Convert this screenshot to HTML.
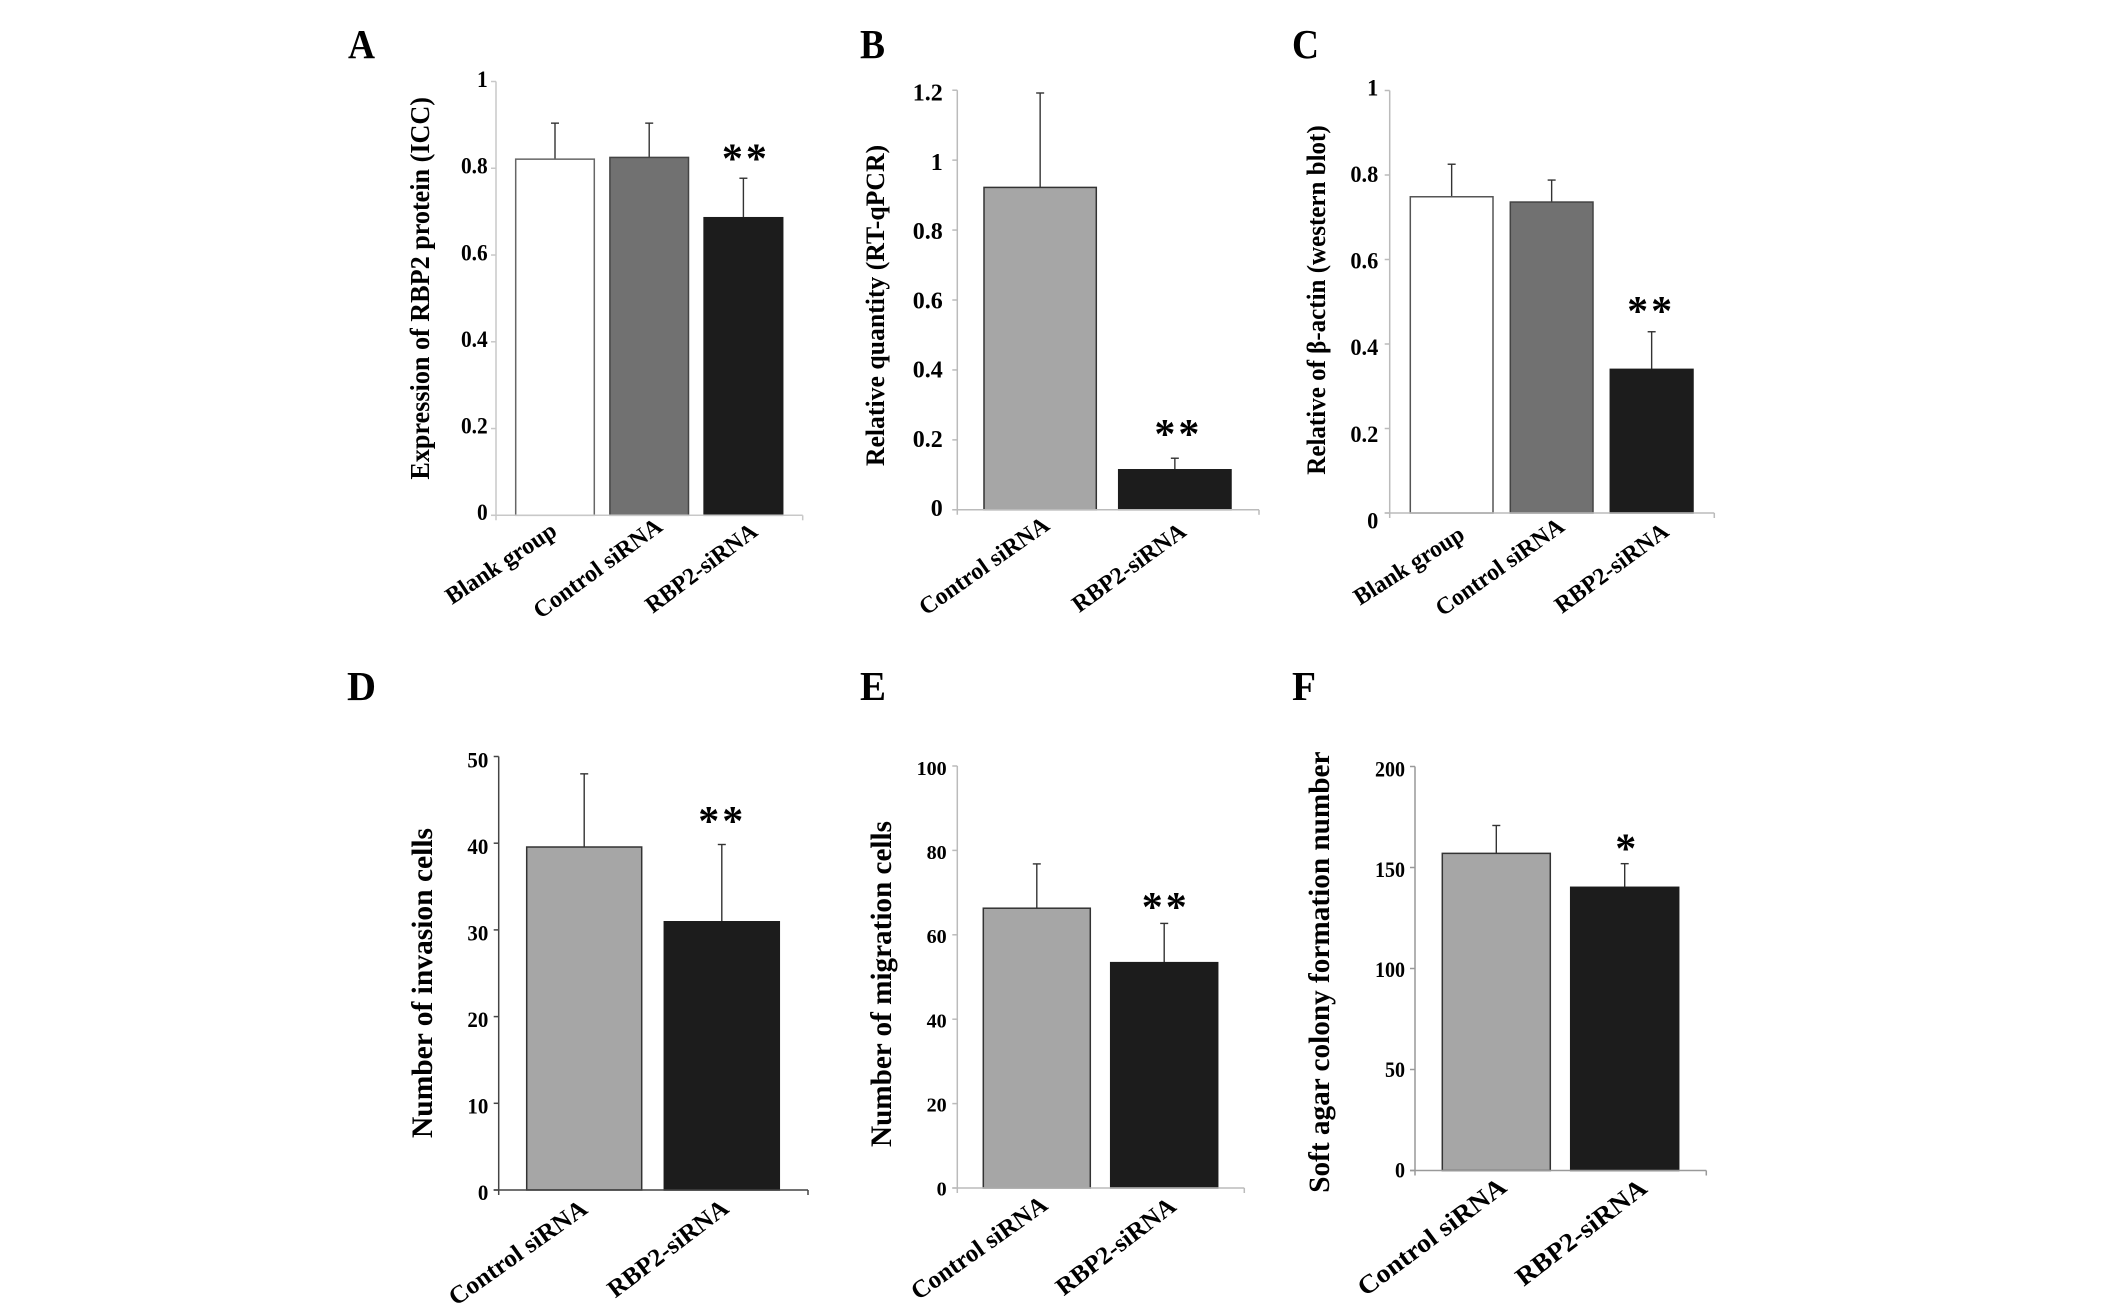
<!DOCTYPE html>
<html lang="en">
<head>
<meta charset="utf-8">
<title>RBP2 siRNA bar chart panels</title>
<style>
html,body{margin:0;padding:0;background:#fff;width:2126px;height:1312px;overflow:hidden}
svg{display:block}
text{font-family:"Liberation Serif","DejaVu Serif",serif;font-weight:bold;fill:#000}
</style>
</head>
<body>
<svg id="figure" xmlns="http://www.w3.org/2000/svg" width="2126" height="1312" viewBox="0 0 2126 1312"></svg>
<script>
// ---- Panel data ----
const aCategories = ["Blank group", "Control siRNA", "RBP2-siRNA"];
const aValues = [0.821, 0.825, 0.686];
const aErrors = [0.083, 0.079, 0.091];
const aTickLabels = ["0", "0.2", "0.4", "0.6", "0.8", "1"];
const aStars = ["", "", "**"];

const bCategories = ["Control siRNA", "RBP2-siRNA"];
const bValues = [0.922, 0.1145];
const bErrors = [0.27, 0.033];
const bTickLabels = ["0", "0.2", "0.4", "0.6", "0.8", "1", "1.2"];
const bStars = ["", "**"];

const cCategories = ["Blank group", "Control siRNA", "RBP2-siRNA"];
const cValues = [0.7485, 0.736, 0.34];
const cErrors = [0.077, 0.052, 0.089];
const cTickLabels = ["0", "0.2", "0.4", "0.6", "0.8", "1"];
const cStars = ["", "", "**"];

const dCategories = ["Control siRNA", "RBP2-siRNA"];
const dValues = [39.56, 30.94];
const dErrors = [8.44, 8.91];
const dTickLabels = ["0", "10", "20", "30", "40", "50"];
const dStars = ["", "**"];

const eCategories = ["Control siRNA", "RBP2-siRNA"];
const eValues = [66.3, 53.4];
const eErrors = [10.5, 9.3];
const eTickLabels = ["0", "20", "40", "60", "80", "100"];
const eStars = ["", "**"];

const fCategories = ["Control siRNA", "RBP2-siRNA"];
const fValues = [157, 140.2];
const fErrors = [13.8, 11.7];
const fTickLabels = ["0", "50", "100", "150", "200"];
const fStars = ["", "*"];

// ---- Panel layout (frame geometry and styling, separate from data) ----
const WHITE = "#ffffff", MID = "#717171", LIGHT = "#a6a6a6", DARK = "#1c1c1c";
const panels = [
  {id:"a", letter:"A", lx:348, ly:58, lw:27,
   title:"Expression of RBP2 protein (ICC)", tx:429, tTop:97, tBot:479.6, tFs:27,
   categories:aCategories, values:aValues, errors:aErrors, ticks:aTickLabels, stars:aStars,
   left:496, right:802.7, top:81.5, bottom:515.3, axis:"#c8c8c8",
   barLeft:515.7, barWidth:78.6, barStep:94.2, fills:[WHITE,MID,DARK], barStroke:["#666","#444","#1c1c1c"],
   tickRight:487.7, tickFs:23, tickStretch:0.93, labTop:-2, labBot:-2.8,
   xFs:24, xLabels:[[452,605,558.3,534.4],[540.5,619.4,664,529.5],[652.7,614,759,534.4]],
   starDx:1, starLift:24.5},
  {id:"b", letter:"B", lx:860, ly:58, lw:25,
   title:"Relative quantity (RT-qPCR)", tx:884, tTop:144.9, tBot:466.1, tFs:26,
   categories:bCategories, values:bValues, errors:bErrors, ticks:bTickLabels, stars:bStars,
   left:957.3, right:1259, top:90.2, bottom:509.8, axis:"#bbbbbb",
   barLeft:984, barWidth:112.3, barStep:134.7, fills:[LIGHT,DARK], barStroke:["#333","#1c1c1c"],
   tickRight:942.7, tickFs:24, tickStretch:1.0, labTop:2.5, labBot:-1.6,
   xFs:24, xLabels:[[926,616,1051,528.3],[1079.3,613.2,1187.7,534.4]],
   starDx:2, starLift:29.4},
  {id:"c", letter:"C", lx:1292, ly:58, lw:27,
   title:"Relative of \u03b2-actin (western blot)", tx:1325, tTop:125.3, tBot:474.7, tFs:26,
   categories:cCategories, values:cValues, errors:cErrors, ticks:cTickLabels, stars:cStars,
   left:1389.7, right:1714.3, top:90.5, bottom:513, axis:"#bbbbbb",
   barLeft:1410.3, barWidth:82.7, barStep:100, fills:[WHITE,MID,DARK], barStroke:["#555","#444","#1c1c1c"],
   tickRight:1378.3, tickFs:23.3, tickStretch:0.96, labTop:-2.8, labBot:7.7,
   xFs:24, xLabels:[[1360,605.9,1466,538.4],[1442.5,616.9,1566,529.5],[1562,614.1,1670.3,534.4]],
   starDx:-2, starLift:25.7},
  {id:"d", letter:"D", lx:347, ly:700, lw:29,
   title:"Number of invasion cells", tx:432, tTop:828, tBot:1138, tFs:30,
   categories:dCategories, values:dValues, errors:dErrors, ticks:dTickLabels, stars:dStars,
   left:498.7, right:808, top:756.5, bottom:1190, axis:"#444444",
   barLeft:526.7, barWidth:115, barStep:137.6, fills:[LIGHT,DARK], barStroke:["#333","#1c1c1c"],
   tickRight:488.3, tickFs:22, tickStretch:0.95, labTop:3.75, labBot:2.9,
   xFs:25, xLabels:[[456,1306.4,589,1212],[615.3,1298.6,730.3,1211.1]],
   starDx:-1, starLift:28.75},
  {id:"e", letter:"E", lx:860, ly:700, lw:26,
   title:"Number of migration cells", tx:891, tTop:821, tBot:1147, tFs:30,
   categories:eCategories, values:eValues, errors:eErrors, ticks:eTickLabels, stars:eStars,
   left:957.3, right:1244.3, top:766, bottom:1188, axis:"#bbbbbb",
   barLeft:983.3, barWidth:107, barStep:127.4, fills:[LIGHT,DARK], barStroke:["#333","#1c1c1c"],
   tickRight:946.7, tickFs:20.5, tickStretch:0.98, labTop:2.1, labBot:0.9,
   xFs:25, xLabels:[[918.3,1300.6,1049.3,1208.1],[1063.7,1296.5,1177.7,1209]],
   starDx:0, starLift:21.25},
  {id:"f", letter:"F", lx:1292, ly:700, lw:24,
   title:"Soft agar colony formation number", tx:1329, tTop:751.5, tBot:1192.75, tFs:30,
   categories:fCategories, values:fValues, errors:fErrors, ticks:fTickLabels, stars:fStars,
   left:1415, right:1706.3, top:766.5, bottom:1170.5, axis:"#999999",
   barLeft:1442.3, barWidth:108, barStep:128.4, fills:[LIGHT,DARK], barStroke:["#333","#1c1c1c"],
   tickRight:1405, tickFs:22, tickStretch:0.91, labTop:2.9, labBot:-0.4,
   xFs:26, xLabels:[[1365.5,1297,1508.3,1190],[1523.7,1287,1648.7,1191]],
   starDx:1, starLift:20}
];

// ---- Drawing ----
const NS = "http://www.w3.org/2000/svg";
const figure = document.getElementById("figure");
function make(tag, parent, attrs, content) {
  const node = document.createElementNS(NS, tag);
  for (const k in attrs) node.setAttribute(k, attrs[k]);
  if (content !== undefined) node.textContent = content;
  parent.appendChild(node);
  return node;
}
function slug(s) {
  return s.toLowerCase().replace(/[^a-z0-9]+/g, "-");
}
function emWidth(s) {
  let w = 0;
  for (const ch of s) w += ch === "." ? 0.25 : 0.5;
  return w;
}

panels.forEach(function (p) {
  const g = make("g", figure, {});
  
  

  const letter = make("text", g, {x:p.lx, y:p.ly, "font-size":41, textLength:p.lw, lengthAdjust:"spacingAndGlyphs"}, p.letter);
  
  

  const tickNums = p.ticks.map(Number);
  const yMin = Math.min.apply(null, tickNums);
  const yMax = Math.max.apply(null, tickNums);
  const yScale = function (v) {
    return p.bottom - (v - yMin) / (yMax - yMin) * (p.bottom - p.top);
  };
  const xBar = function (i) {
    return p.barLeft + i * p.barStep;
  };

  // Bars
  p.values.forEach(function (v, i) {
    const cx = xBar(i) + p.barWidth / 2;
    const yTop = yScale(v);
    const yErr = yScale(v + p.errors[i]);
    const name = slug(p.categories[i]);

    const stem = make("line", g, {x1:cx, x2:cx, y1:yErr, y2:yTop, stroke:"#333", "stroke-width":1.4});
    
    

    const cap = make("line", g, {x1:cx - 4, x2:cx + 4, y1:yErr, y2:yErr, stroke:"#333", "stroke-width":1.4});
    
    

    const bar = make("rect", g, {x:xBar(i), y:yTop, width:p.barWidth, height:p.bottom - yTop,
      fill:p.fills[i], stroke:p.barStroke[i], "stroke-width":1.5});
    
    

    if (p.stars[i]) {
      const isDouble = p.stars[i].length === 2;
      const star = make("text", g, {x:cx + p.starDx + (isDouble ? 1.5 : 0), y:yErr - p.starLift + 19, "font-size":42,
        "text-anchor":"middle", "letter-spacing":isDouble ? 3 : 0}, p.stars[i]);
      
      
    }
  });

  // Axes
  const yAxis = make("line", g, {x1:p.left, x2:p.left, y1:p.top, y2:p.bottom + 5, stroke:p.axis, "stroke-width":1.5});
  
  

  const xAxis = make("line", g, {x1:p.left - 5, x2:p.right, y1:p.bottom, y2:p.bottom, stroke:p.axis, "stroke-width":1.5});
  
  

  const xEnd = make("line", g, {x1:p.right, x2:p.right, y1:p.bottom, y2:p.bottom + 5, stroke:p.axis, "stroke-width":1.5});
  
  

  // Y ticks and labels
  p.ticks.forEach(function (label) {
    const v = Number(label);
    const y = yScale(v);
    const frac = (v - yMin) / (yMax - yMin);
    const tick = make("line", g, {x1:p.left - 5, x2:p.left, y1:y, y2:y, stroke:p.axis, "stroke-width":1.5});
    
    

    const shift = p.labBot + (p.labTop - p.labBot) * frac;
    const tl = make("text", g, {x:p.tickRight, y:y + shift + p.tickFs * 0.33, "font-size":p.tickFs,
      "text-anchor":"end", textLength:emWidth(label) * p.tickFs * p.tickStretch,
      lengthAdjust:"spacingAndGlyphs"}, label);
    
    
  });

  // Y title (runs bottom to top)
  const title = make("text", g, {"font-size":p.tFs, textLength:p.tBot - p.tTop, lengthAdjust:"spacingAndGlyphs",
    transform:"translate(" + p.tx + "," + p.tBot + ") rotate(-90)", x:0, y:0}, p.title);
  
  

  // Rotated category labels
  p.categories.forEach(function (cat, i) {
    const c = p.xLabels[i];
    const dx = c[2] - c[0], dy = c[3] - c[1];
    const ang = Math.atan2(dy, dx) * 180 / Math.PI;
    const xl = make("text", g, {"font-size":p.xFs, textLength:Math.hypot(dx, dy), lengthAdjust:"spacingAndGlyphs",
      transform:"translate(" + c[0] + "," + c[1] + ") rotate(" + ang + ")", x:0, y:0}, cat);
    
    
  });
});
</script>
</body>
</html>
